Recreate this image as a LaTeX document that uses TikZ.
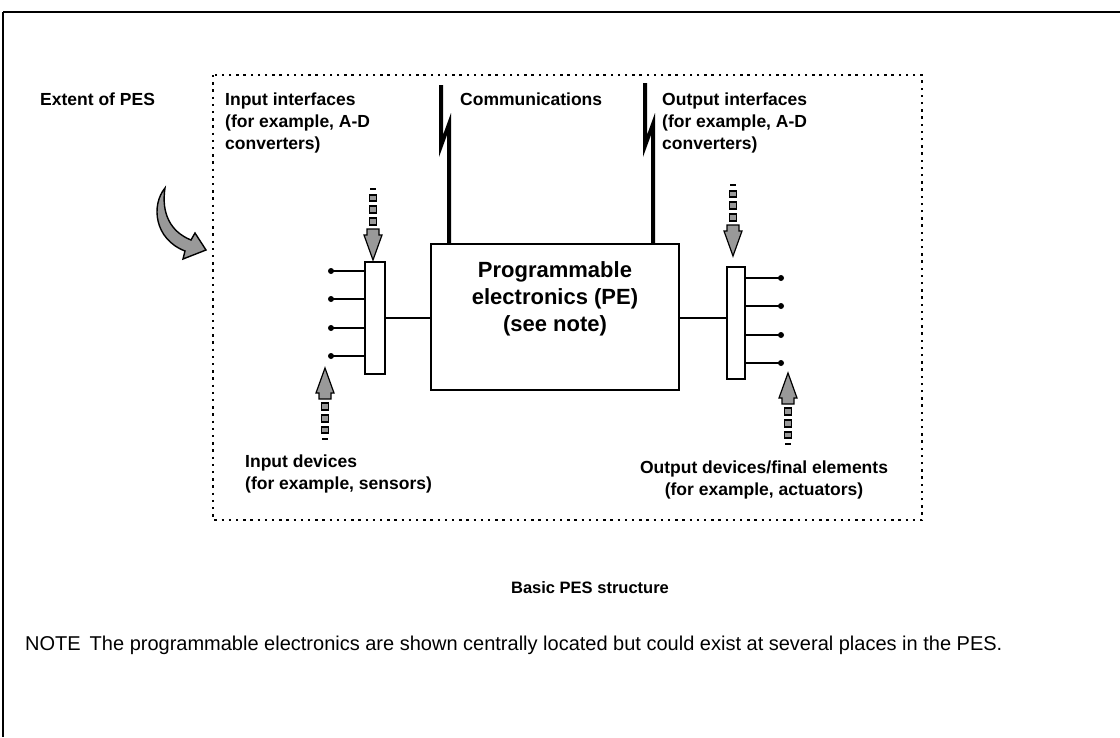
\documentclass[tikz,border=0pt]{standalone}
\usepackage{fontspec}
\setmainfont{Liberation Sans}
\newcommand\gdarrow[3]{%
  \begin{scope}[shift={(#1,#2)},yscale=#3]
    \filldraw[gfill] (0,0) -- (-9,-25) -- (-6,-25) -- (-6,-31) -- (6,-31) -- (6,-25) -- (9,-25) -- cycle;
    \filldraw[gfill] (-3.5,-35) rectangle (3.5,-42);
    \filldraw[gfill] (-3.5,-47) rectangle (3.5,-54);
    \filldraw[gfill] (-3.5,-59) rectangle (3.5,-65);
    \fill (-3,-70) rectangle (3,-72);
  \end{scope}}
\begin{document}
\begin{tikzpicture}[x=1pt,y=-1pt,
  lbl/.style={font=\fontsize{17.5}{22}\selectfont\bfseries,inner sep=0pt,align=left},
  pelbl/.style={font=\fontsize{22}{27}\selectfont\bfseries,inner sep=0pt,align=center},
  gfill/.style={fill=black!40,draw=black,line width=1.2pt},
  bar/.style={draw,line width=1.5pt,inner sep=0pt},
  wire/.style={line width=1.5pt},
  pin/.style={fill=black},
  extent/.style={line width=2.4pt,dash pattern=on 2.4pt off 4.8pt}]
\useasboundingbox (0,0) rectangle (1120,737);
% page frame
\draw[line width=2.2pt] (1120,12) -- (3,12);
\draw[line width=1.3pt] (3,12) -- (3,737);
% extent of PES
\draw[extent] (213,75) rectangle (922,520);
\node[lbl,anchor=north west] (ext) at (40,93) {Extent of PES};
\filldraw[fill=black!40,line width=1.4pt] (165,188) .. controls (151,205) and (154,239) .. (185,251)
  -- (183,259) -- (206,250) -- (195,233) -- (191,240)
  .. controls (171,232) and (161,214) .. (165,188) -- cycle;
% labels
\node[lbl,anchor=north west] (inif) at (225,93) {Input interfaces\\(for example, A-D\\converters)};
\node[lbl,anchor=north west] (comm) at (460,93) {Communications};
\node[lbl,anchor=north west] (outif) at (662,93) {Output interfaces\\(for example, A-D\\converters)};
\node[lbl,anchor=north west] (indev) at (245,455) {Input devices\\(for example, sensors)};
\node[lbl,align=center,anchor=north] (outdev) at (764,461) {Output devices/final elements\\(for example, actuators)};
% PE
\node[draw,line width=2pt,minimum width=248pt,minimum height=146pt,inner sep=0pt] (pe) at (555,317) {};
\node[pelbl] (pet) at (555,299) {Programmable\\electronics (PE)\\(see note)};
% interface bars
\node[bar,minimum width=20pt,minimum height=112pt] (ibar) at (375,318) {};
\node[bar,minimum width=18pt,minimum height=112pt] (obar) at (736,323) {};
\draw[wire] (ibar.east) -- (ibar.east -| pe.west);
\coordinate (oc) at (680,318);
\draw[wire] (oc) -- (oc -| obar.west);
% pins
\foreach \i/\y in {1/271,2/299,3/328,4/356}{
  \coordinate (ip\i) at (331,\y);
  \draw[wire] (ip\i) -- (ip\i -| ibar.west);
  \fill[pin] (ip\i) circle (3pt);
}
\foreach \i/\y in {1/278,2/306,3/335,4/363}{
  \coordinate (op\i) at (781,\y);
  \draw[wire] (op\i -| obar.east) -- (op\i);
  \fill[pin] (op\i) circle (3pt);
}
% communications with lightning marks
\coordinate (c1) at (449,244);
\coordinate (c2) at (653,244);
\fill (439,85) -- (443,85) -- (443,135) -- (451,113) -- (451,244) -- (447,244)
  -- (447,135) -- (439,157) -- cycle;
\fill (643,83) -- (647,83) -- (647,135) -- (655,113) -- (655,244) -- (651,244)
  -- (651,135) -- (643,157) -- cycle;
% gray dashed arrows
\gdarrow{373}{260}{1}
\gdarrow{325}{368}{-1}
\gdarrow{733}{256}{1}
\gdarrow{788}{373}{-1}
% caption and note
\node[font=\fontsize{16.5}{20}\selectfont\bfseries,inner sep=0pt] (cap) at (590,588) {Basic PES structure};
\node[font=\fontsize{20}{24}\selectfont,inner sep=0pt,anchor=west] (note) at (25,645)
  {NOTE\hspace{0.45em}The programmable electronics are shown centrally located but could exist at several places in the PES.};
\end{tikzpicture}
\end{document}
